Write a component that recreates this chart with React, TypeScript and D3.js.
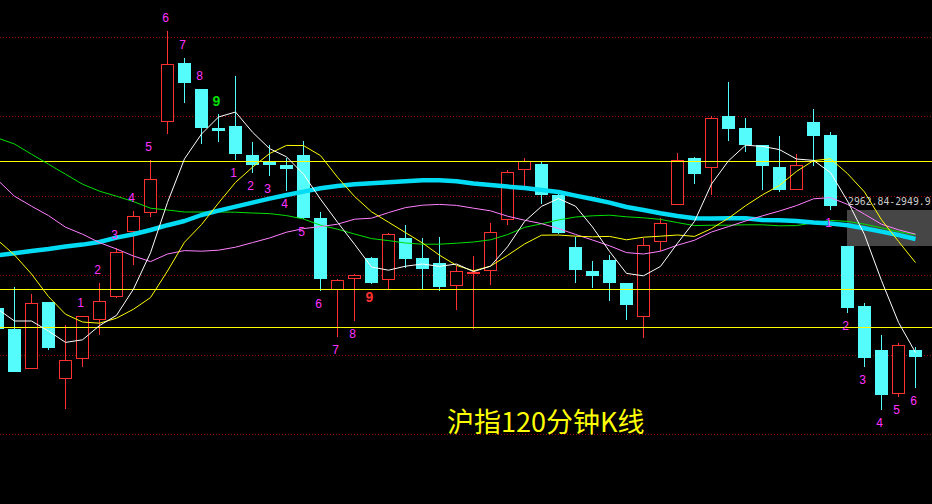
import * as React from "react";
import * as d3 from "d3";

const W = 932;
const H = 504;

// 120-minute bars of the Shanghai index
const opens = [
  2906, 2895.5, 2875.5, 2909, 2870.5, 2880.5, 2900, 2911.5, 2944, 2953.5,
  2999, 3028.5, 3015.5, 2996, 2997, 2982.5, 2979, 2977.5, 2982.5, 2951,
  2915, 2920.5, 2931, 2920, 2941, 2931, 2928.5, 2917, 2923.5, 2924.5,
  2950, 2975, 2978, 2962.5, 2936.5, 2924.5, 2930, 2918.5, 2901.5, 2939,
  2957.5, 2981, 2976, 3002, 2996, 2987.5, 2976.5, 2965, 2999, 2992.5,
  2937, 2907, 2885, 2863, 2885,
];
const highs = [
  2907, 2916.5, 2913, 2909, 2897.5, 2902, 2918.5, 2936, 2954.5, 2980,
  3044.5, 3031, 3015.5, 3003, 3022, 2989, 2987.5, 2981, 2989.5, 2954,
  2920.5, 2923, 2931.5, 2943.5, 2947.5, 2941, 2941.5, 2927, 2932, 2948.5,
  2975, 2981, 2979, 2963.5, 2941.5, 2929.5, 2932.5, 2918.5, 2941, 2951,
  2983.5, 2981.5, 3002, 3019, 3001, 2987.5, 2992, 2983, 3005.5, 2994,
  2937, 2908.5, 2892.5, 2888.5, 2886.5,
];
const lows = [
  2894.5, 2874, 2875.5, 2885, 2855.5, 2876.5, 2892.5, 2911, 2927.5, 2951.5,
  2993, 3008.5, 2988, 2989, 2980, 2973.5, 2972, 2964.5, 2950.5, 2914.5,
  2891.5, 2899.5, 2918, 2915.5, 2926, 2915.5, 2914.5, 2905, 2895.5, 2917.5,
  2947.5, 2967, 2958, 2943, 2918.5, 2916, 2909.5, 2900, 2891, 2934.5,
  2957.5, 2968, 2962.5, 2989.5, 2984, 2965, 2964, 2965, 2977, 2955,
  2903.5, 2876.5, 2855, 2861.5, 2866,
];
const closes = [
  2895.5, 2874, 2908.5, 2886, 2880, 2902, 2909.5, 2934, 2952, 2970.5,
  3028, 3018.5, 2996, 2994.5, 2983, 2977.5, 2977.5, 2975.5, 2951, 2920.5,
  2920, 2922.5, 2918.5, 2943, 2930.5, 2925.5, 2916.5, 2924.5, 2924, 2944,
  2974, 2979.5, 2962.5, 2943.5, 2925, 2922, 2918.5, 2907.5, 2937.5, 2948.5,
  2980, 2973, 3001, 2995.5, 2987.5, 2977, 2965, 2977.5, 2992, 2957,
  2906, 2881, 2862.5, 2887.5, 2881.5,
];

// moving averages, read per bar
const ma5 = [
  2905.5, 2899.5, 2899.5, 2894.5, 2888.8, 2890.1, 2897.2, 2902.3, 2915.5, 2933.6,
  2958.8, 2980.6, 2993, 3001.5, 3004, 2993.9, 2985.7, 2981.6, 2972.9, 2960.4,
  2948.9, 2937.9, 2926.5, 2924.9, 2926.9, 2928, 2926.8, 2928, 2924.2, 2926.9,
  2936.6, 2949.2, 2956.8, 2960.7, 2956.9, 2946.5, 2934.3, 2923.3, 2922.1, 2926.8,
  2938.4, 2949.3, 2968, 2979.6, 2987.4, 2986.8, 2985.2, 2980.5, 2979.8, 2973.7,
  2959.5, 2942.7, 2919.7, 2898.8, 2883.7,
];
const ma10 = [
  2940, 2932.5, 2923, 2911.7, 2902.9, 2899, 2898.4, 2900.9, 2905.4, 2911.2,
  2924.5, 2938.9, 2947.7, 2958.5, 2968.8, 2976.4, 2983.2, 2987.3, 2987.2, 2982.2,
  2971.4, 2961.8, 2954.1, 2948.9, 2943.7, 2938.5, 2932.4, 2927.3, 2924.6, 2926.9,
  2932.3, 2938, 2942.4, 2942.5, 2941.9, 2941.6, 2941.8, 2940.1, 2941.4, 2941.9,
  2942.5, 2941.8, 2945.7, 2950.9, 2957.1, 2962.6, 2967.3, 2974.3, 2979.7, 2980.6,
  2973.2, 2964, 2950.1, 2939.3, 2928.7,
];
const ma20 = [
  2970, 2961.9, 2956.9, 2952.2, 2946.4, 2942.9, 2938.7, 2935.5, 2932, 2929.2,
  2933, 2934.7, 2934.4, 2934.9, 2936.4, 2938.7, 2941, 2943.9, 2945.7, 2946.7,
  2947.9, 2950.4, 2950.9, 2953.7, 2956.2, 2957.4, 2957.8, 2957.3, 2955.9, 2954.6,
  2951.9, 2949.9, 2948.2, 2945.7, 2942.8, 2940, 2937.1, 2933.7, 2933, 2934.4,
  2937.4, 2939.9, 2944, 2946.7, 2949.5, 2952.1, 2954.5, 2957.2, 2960.6, 2961.2,
  2957.8, 2952.9, 2947.9, 2945.1, 2942.9,
];
const ma30 = [
  2991, 2988, 2982.9, 2977.9, 2972.9, 2967.9, 2964.4, 2961.9, 2959.2, 2955.9,
  2955, 2954, 2954, 2954, 2953.9, 2953.5, 2953.2, 2952.2, 2950.5, 2947.4,
  2945.4, 2943, 2940.7, 2939.7, 2938.5, 2937.9, 2937.9, 2938.4, 2939, 2940.1,
  2942.7, 2946.3, 2948.1, 2950, 2951.5, 2952.1, 2952.4, 2951.6, 2951.1, 2950.3,
  2948.7, 2947.2, 2947.4, 2947.4, 2947.6, 2947.6, 2947.1, 2947.2, 2948.6, 2949.8,
  2949.3, 2947.9, 2946.1, 2944.2, 2942.6,
];
const ma60 = [
  2932.3, 2933.4, 2934.5, 2935.5, 2936.7, 2937.7, 2939, 2941.2, 2942.9, 2945,
  2947.4, 2949.5, 2952.5, 2954.7, 2956.7, 2958.7, 2960.7, 2962.5, 2964.2, 2965.9,
  2967, 2967.9, 2968.4, 2968.9, 2969.4, 2969.9, 2969.9, 2969.4, 2968.2, 2967.5,
  2966.7, 2966, 2965, 2964, 2962.2, 2960.5, 2958.7, 2956.5, 2955, 2953.4,
  2952, 2950.9, 2950.7, 2950.9, 2950.9, 2950, 2949.9, 2949.5, 2948.7, 2948.2,
  2947.4, 2945.9, 2944.2, 2942.5, 2940.5,
];

// horizontal support / resistance levels
const levels = [2979.5, 2915.5, 2896.5];

// sequential count labels (bar indexes)
const upCount = [5, 6, 7, 8, 9, 10, 11, 12, 13];
const downCount = [14, 15, 16, 17, 18, 19, 20, 21, 22];
const downCount2 = [49, 50, 51, 52, 53, 54];

const rangeText = "2962.84-2949.9";
const rangeBox = [2955, 2937];
const rangeFromBar = 50;
const title = "沪指120分钟K线";

const RED = "#ff3232";
const CYAN = "#54fcfc";
const MAGENTA = "#ff33ff";

export default function App() {
  React.useLayoutEffect(() => {
    document.body.style.margin = "0";
    document.body.style.background = "#000";
  }, []);

  const x = d3.scaleLinear().domain([0, opens.length - 1]).range([-2.5, 915.5]);
  const y = d3.scaleLinear().domain([3060, 2808]).range([0, H]);

  const line = d3
    .line<number>()
    .x((_, i) => x(i))
    .y((v) => y(v));

  const gridRows = d3.range(6).map((k) => Math.round(37 + k * 79.4) + 0.5);

  const mas = [
    { data: ma30, color: "#00e000", w: 1 },
    { data: ma60, color: "#00dcf4", w: 4.5 },
    { data: ma20, color: "#ff80ff", w: 1 },
    { data: ma10, color: "#ffff00", w: 1 },
    { data: ma5, color: "#ffffff", w: 1 },
  ];

  const labels = [
    ...upCount.map((i, k) => ({ i, k, up: true, last: k === upCount.length - 1 })),
    ...downCount.map((i, k) => ({ i, k, up: false, last: k === downCount.length - 1 })),
    ...downCount2.map((i, k) => ({ i, k, up: false, last: false })),
  ];

  const boxX = x(rangeFromBar) - 0.5;

  return (
    <svg
      width={W}
      height={H}
      style={{ position: "absolute", left: 0, top: 0, background: "#000" }}
    >
      <rect width={W} height={H} fill="#000" />
      {gridRows.map((gy, k) => (
        <line
          key={k}
          x1={0}
          x2={W}
          y1={gy}
          y2={gy}
          stroke="#a00808"
          strokeDasharray="1 2"
          shapeRendering="crispEdges"
        />
      ))}
      <rect
        x={boxX}
        y={y(rangeBox[0])}
        width={W - boxX}
        height={y(rangeBox[1]) - y(rangeBox[0])}
        fill="#464646"
      />
      <g shapeRendering="crispEdges">
        {opens.map((o, i) => {
          const c = closes[i];
          const cx = Math.floor(x(i));
          const top = Math.round(y(Math.max(o, c)));
          const bot = Math.round(y(Math.min(o, c)));
          const hi = Math.round(y(highs[i]));
          const lo = Math.round(y(lows[i]));
          if (c > o) {
            return (
              <g key={i}>
                <line x1={cx + 0.5} x2={cx + 0.5} y1={hi} y2={lo} stroke={RED} />
                <rect
                  x={cx - 5.5}
                  y={top + 0.5}
                  width={12}
                  height={Math.max(bot - top - 1, 1)}
                  fill="#000"
                  stroke={RED}
                />
              </g>
            );
          }
          return (
            <g key={i}>
              <line x1={cx + 0.5} x2={cx + 0.5} y1={hi} y2={lo} stroke={CYAN} />
              <rect
                x={cx - 6}
                y={top}
                width={13}
                height={Math.max(bot - top, 2)}
                fill={CYAN}
              />
            </g>
          );
        })}
      </g>
      {levels.map((p, k) => {
        const ly = Math.round(y(p)) + 0.5;
        return (
          <line
            key={k}
            x1={0}
            x2={W}
            y1={ly}
            y2={ly}
            stroke="#ffff00"
            shapeRendering="crispEdges"
          />
        );
      })}
      {mas.map((m, k) => (
        <path
          key={k}
          d={line(m.data) ?? ""}
          fill="none"
          stroke={m.color}
          strokeWidth={m.w}
          strokeLinejoin="round"
        />
      ))}
      <g fontFamily="'Liberation Sans', Arial, sans-serif" textAnchor="middle">
        {labels.map((l, n) => {
          const ly = l.up ? y(highs[l.i]) - 13 : y(lows[l.i]) + 12.5;
          const color = l.last ? (l.up ? "#00e000" : RED) : MAGENTA;
          return (
            <text
              key={n}
              x={x(l.i) - 2}
              y={ly}
              dy="0.36em"
              fontSize={l.last ? 14 : 12}
              fontWeight={l.last ? "bold" : "normal"}
              fill={color}
            >
              {l.k + 1}
            </text>
          );
        })}
      </g>
      <text
        x={boxX + 1}
        y={y(rangeBox[0]) - 5}
        fontFamily="'DejaVu Sans Mono', monospace"
        fontSize={9.8}
        fill="#c8c8c8"
      >
        {rangeText}
      </text>
      <text
        x={447}
        y={432}
        fontFamily="'Noto Sans CJK SC', sans-serif"
        fontSize={27}
        fill="#ffff00"
      >
        {title}
      </text>
    </svg>
  );
}
